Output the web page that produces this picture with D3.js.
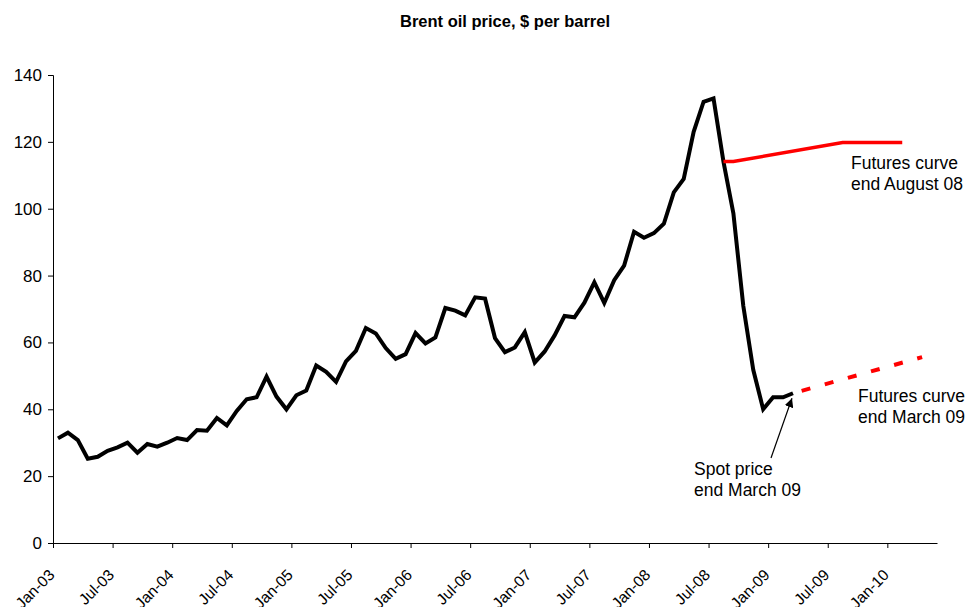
<html>
<head>
<script src="https://d3js.org/d3.v7.min.js"></script>
<style>
  body { margin: 0; background: #fff; }
  svg text { font-family: "Liberation Sans", Arial, sans-serif; fill: #000; }
  .axis path, .axis line { stroke: #000; stroke-width: 1; }
  .axis text { font-family: "Liberation Sans", Arial, sans-serif; }
</style>
</head>
<body>
<svg id="chart" width="965" height="607"></svg>
<script>
// monthly categories Jan-03 .. May-10 (89 slots on the category axis)
const months = d3.timeMonth.range(new Date(2003, 0, 1), new Date(2010, 5, 1)).map(d3.timeFormat("%b-%y"));

// Brent spot, month-end, Jan-03 .. Mar-09
const spot = [31.3, 33.0, 30.8, 25.2, 25.8, 27.6, 28.6, 30.0, 27.0, 29.6, 28.8, 30.0,
              31.4, 30.8, 33.8, 33.6, 37.4, 35.2, 39.5, 43.0, 43.6, 49.8, 43.8, 40.0,
              44.2, 45.6, 53.1, 51.2, 48.2, 54.3, 57.5, 64.3, 62.7, 58.3, 55.1, 56.5,
              62.8, 59.7, 61.5, 70.3, 69.5, 68.1, 73.5, 73.1, 61.3, 57.1, 58.5, 63.1,
              54.0, 57.3, 62.1, 67.9, 67.5, 71.9, 78.0, 71.8, 78.6, 83.0, 93.1, 91.3,
              92.7, 95.5, 104.9, 108.9, 123.0, 132.0, 133.0, 114.1, 98.6, 70.9, 51.8, 40.0,
              43.6, 43.6, 44.8];

// futures curves (month label, price)
const futAugMonths = ["Aug-08", "Sep-08", "Aug-09", "Feb-10"];
const futAugValues = [114.1, 114.1, 119.8, 119.8];
const futMarMonths = ["Mar-09", "Apr-10"];
const futMarValues = [44.8, 55.6];

const xTickLabels = ["Jan-03", "Jul-03", "Jan-04", "Jul-04", "Jan-05", "Jul-05", "Jan-06", "Jul-06",
                     "Jan-07", "Jul-07", "Jan-08", "Jul-08", "Jan-09", "Jul-09", "Jan-10"];
const yTicks = [0, 20, 40, 60, 80, 100, 120, 140];

const svg = d3.select("#chart");
const plotLeft = 53, plotRight = 937, plotTop = 75, plotBottom = 543;

var x = d3.scaleLinear().domain([0, months.length]).range([plotLeft, plotRight]);
var y = d3.scaleLinear().domain([0, 140]).range([plotBottom, plotTop]);
const cx = m => x(months.indexOf(m) + 0.5);

// title
svg.append("text")
  .attr("x", 505).attr("y", 27)
  .attr("text-anchor", "middle")
  .style("font-size", "16.5px").style("font-weight", "bold")
  .text("Brent oil price, $ per barrel");

// Y axis
const yAxis = svg.append("g").attr("class", "axis")
  .attr("transform", "translate(" + plotLeft + ",0)")
  .call(d3.axisLeft(y).tickValues(yTicks).tickSize(5).tickPadding(6).tickFormat(d3.format("d")));
yAxis.selectAll("text").style("font-size", "17px");

// X axis
const xAxis = svg.append("g").attr("class", "axis")
  .attr("transform", "translate(0," + plotBottom + ")")
  .call(d3.axisBottom(x)
    .tickValues(xTickLabels.map(l => months.indexOf(l)))
    .tickSize(5)
    .tickSizeOuter(0)
    .tickFormat(i => months[i]));
xAxis.selectAll("text")
  .style("font-size", "15.5px")
  .attr("text-anchor", "end")
  .attr("dy", null)
  .attr("y", 0)
  .attr("transform", "translate(2,33) rotate(-45)");

// spot line
const line = d3.line().x(d => d[0]).y(d => y(d[1]));
svg.append("path")
  .datum(spot.map((v, i) => [x(i + 0.5), v]))
  .attr("d", line)
  .attr("fill", "none")
  .attr("stroke", "#000")
  .attr("stroke-width", 4)
  .attr("stroke-linejoin", "miter");

// futures end August 08
svg.append("path")
  .datum(futAugMonths.map((m, i) => [cx(m), futAugValues[i]]))
  .attr("d", line)
  .attr("fill", "none")
  .attr("stroke", "#ff0000")
  .attr("stroke-width", 3.5);

// futures end March 09
svg.append("path")
  .datum(futMarMonths.map((m, i) => [cx(m), futMarValues[i]]))
  .attr("d", line)
  .attr("fill", "none")
  .attr("stroke", "#ff0000")
  .attr("stroke-width", 4)
  .attr("stroke-dasharray", "9,15")
  .attr("stroke-dashoffset", -9);

// labels
function label(xp, yp, lines) {
  const t = svg.append("text").attr("x", xp).attr("y", yp).style("font-size", "17.5px");
  lines.forEach((s, i) => t.append("tspan").attr("x", xp).attr("dy", i ? 21 : 0).text(s));
}
label(851, 169, ["Futures curve", "end August 08"]);
label(858, 402, ["Futures curve", "end March 09"]);
label(694, 475, ["Spot price", "end March 09"]);

// arrow to last spot point
svg.append("defs").append("marker")
  .attr("id", "arrow").attr("viewBox", "0 0 10 10")
  .attr("refX", 10).attr("refY", 5)
  .attr("markerWidth", 9).attr("markerHeight", 9)
  .attr("markerUnits", "userSpaceOnUse")
  .attr("orient", "auto")
  .append("path").attr("d", "M0,0 L10,5 L0,10 z").attr("fill", "#000");

const ax = x(spot.length - 0.5) - 1, ay = y(spot[spot.length - 1]) + 5;
svg.append("line")
  .attr("x1", 771).attr("y1", 458)
  .attr("x2", ax).attr("y2", ay)
  .attr("stroke", "#000").attr("stroke-width", 1.2)
  .attr("marker-end", "url(#arrow)");
</script>
</body>
</html>
